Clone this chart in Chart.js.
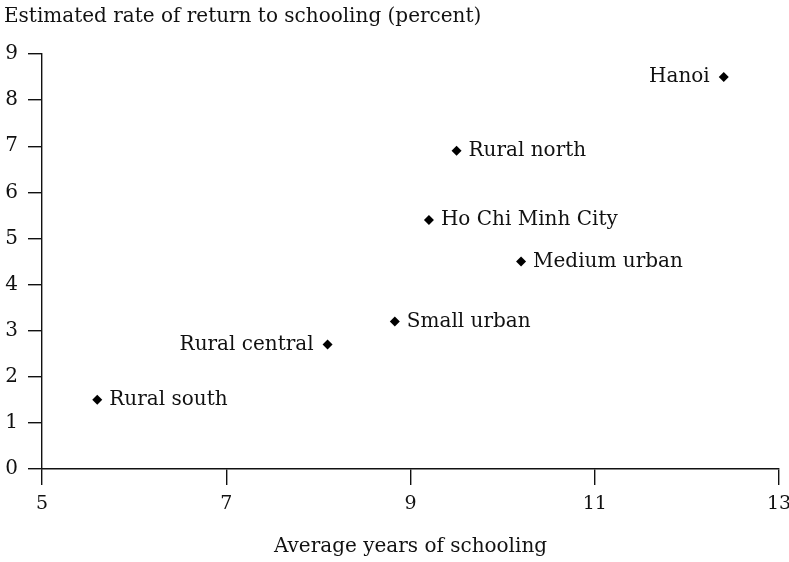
<!DOCTYPE html>
<html>
<head>
<meta charset="utf-8">
<script src="https://cdn.jsdelivr.net/npm/chart.js@4"></script>
<style>
    html, body { margin: 0; padding: 0; background: #fff; }
    #wrap { width: 789px; height: 562px; }
</style>
</head>
<body>
<div id="wrap"><canvas id="schoolingChart" width="789" height="562"></canvas></div>
<script>
// Regions of Vietnam: schooling vs. estimated return
const regions = ['Rural south', 'Rural central', 'Small urban', 'Ho Chi Minh City', 'Rural north', 'Medium urban', 'Hanoi'];
const avgYears = [5.6, 8.1, 8.83, 9.2, 9.5, 10.2, 12.4];
const returnRate = [1.5, 2.7, 3.2, 5.4, 6.9, 4.5, 8.5];
const labelSide = ['right', 'left', 'right', 'right', 'right', 'right', 'left'];
const xTicks = [5, 7, 9, 11, 13];
const yTicks = [0, 1, 2, 3, 4, 5, 6, 7, 8, 9];

const serif = "'DejaVu Serif', 'Liberation Serif', serif";
const ink = '#111';

// point labels + axis titles
const annotate = {
    id: 'annotate',
    afterDatasetsDraw(chart) {
        const ctx = chart.ctx;
        const meta = chart.getDatasetMeta(0);
        ctx.save();
        ctx.font = '20px ' + serif;
        ctx.fillStyle = ink;
        ctx.textBaseline = 'middle';
        meta.data.forEach(function (pt, i) {
            if (labelSide[i] === 'left') {
                ctx.textAlign = 'right';
                ctx.fillText(regions[i], pt.x - 14, pt.y);
            } else {
                ctx.textAlign = 'left';
                ctx.fillText(regions[i], pt.x + 12, pt.y);
            }
        });
        ctx.textAlign = 'left';
        ctx.fillText('Estimated rate of return to schooling (percent)', 4, 17);
        ctx.textAlign = 'center';
        const xs = chart.scales.x;
        ctx.fillText('Average years of schooling', (xs.left + xs.right) / 2, 547);
        ctx.restore();
    }
};

new Chart(document.getElementById('schoolingChart'), {
    type: 'scatter',
    data: {
        datasets: [{
            data: avgYears.map((x, i) => ({ x: x, y: returnRate[i] })),
            pointStyle: 'rectRot',
            pointRadius: 5,
            pointBackgroundColor: '#000',
            pointBorderColor: '#000',
            pointBorderWidth: 0
        }]
    },
    options: {
        responsive: false,
        animation: false,
        layout: { padding: { top: 54, right: 10, left: 0, bottom: 0 } },
        plugins: {
            legend: { display: false },
            tooltip: { enabled: false }
        },
        scales: {
            x: {
                type: 'linear',
                min: 5,
                max: 13,
                afterFit: function (s) { s.height = 93; s.paddingRight = 0; s.paddingLeft = 0; },
                afterBuildTicks: function (s) { s.ticks = xTicks.map(v => ({ value: v })); },
                border: { display: true, color: ink, width: 1.4 },
                grid: { drawOnChartArea: false, drawTicks: true, tickLength: 16, color: ink, lineWidth: 1.4 },
                ticks: { color: ink, font: { family: serif, size: 19 }, padding: 8, maxRotation: 0 }
            },
            y: {
                type: 'linear',
                min: 0,
                max: 9,
                afterFit: function (s) { s.width = 42; s.paddingTop = 0; s.paddingBottom = 0; },
                afterBuildTicks: function (s) { s.ticks = yTicks.map(v => ({ value: v })); },
                border: { display: true, color: ink, width: 1.4 },
                grid: { drawOnChartArea: false, drawTicks: true, tickLength: 14, color: ink, lineWidth: 1.4 },
                ticks: { color: ink, font: { family: serif, size: 20 }, padding: 10 }
            }
        }
    },
    plugins: [annotate]
});
</script>
</body>
</html>
